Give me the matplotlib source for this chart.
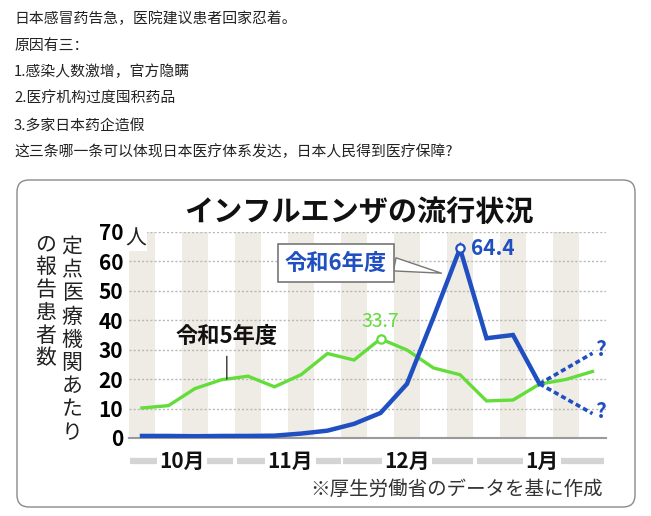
import numpy as np
import matplotlib
matplotlib.use("Agg")
import matplotlib.pyplot as plt
from matplotlib.patches import FancyBboxPatch

plt.rcParams['font.family'] = ['Noto Sans CJK JP', 'DejaVu Sans']

# 帖子正文
post_lines = [
    "日本感冒药告急，医院建议患者回家忍着。",
    "原因有三：",
    "1.感染人数激增，官方隐瞒",
    "2.医疗机构过度囤积药品",
    "3.多家日本药企造假",
    "这三条哪一条可以体现日本医疗体系发达，日本人民得到医疗保障?",
]

# 图表数据（每周，10月初～1月中旬）
weeks = np.arange(18)
r5 = [10.2, 11.0, 16.8, 19.8, 21.0, 17.4, 21.5, 28.7, 26.5, 33.7,
      29.9, 23.8, 21.5, 12.6, 12.9, 18.3, 19.9, 22.6]          # 令和5年度
r6 = [0.7, 0.7, 0.6, 0.7, 0.7, 0.8, 1.5, 2.5, 4.8, 8.5,
      18.4, 41.0, 64.4, 33.9, 35.0, 18.4]                       # 令和6年度
proj_weeks = [15, 17]
proj_high = [18.4, 28.8]
proj_low = [18.4, 8.3]

months = ["10月", "11月", "12月", "1月"]
month_centers = [1.5, 5.6, 10.0, 15.1]
month_spans = [(-0.45, 3.45), (3.6, 7.5), (7.6, 12.5), (12.65, 17.45)]
yticks = [0, 10, 20, 30, 40, 50, 60, 70]

blue = '#1f4fc1'
green = '#62dd3a'
W, H = 651, 516

fig = plt.figure(figsize=(W / 100, H / 100), dpi=100)
bg = fig.add_axes([0, 0, 1, 1])
bg.set_xlim(0, W)
bg.set_ylim(H, 0)
bg.axis('off')

# 正文
for k, line in enumerate(post_lines):
    bg.text(14, 19 + 26.6 * k, line, fontsize=10.7, color='#222222',
            family=['Noto Sans CJK SC', 'DejaVu Sans'], va='center', ha='left')

# 图片外框
frame = FancyBboxPatch((17, 180), 618, 327, boxstyle="round,pad=0,rounding_size=12",
                       fc='white', ec='#8a8a8a', lw=1.0)
bg.add_patch(frame)

# 标题
bg.text(359, 212, "インフルエンザの流行状況", fontsize=21, fontweight='bold',
        color='#111111', ha='center', va='center')

# 纵向的轴标题
for k, ch in enumerate("定点医療機関あたり"):
    bg.text(72, 247 + 23.2 * k, ch, fontsize=15, color='#222222', ha='center', va='center')
for k, ch in enumerate("の報告患者数"):
    bg.text(46, 244 + 22.9 * k, ch, fontsize=15, color='#222222', ha='center', va='center')

# 出典
bg.text(603, 489, "※厚生労働省のデータを基に作成", fontsize=14, color='#333333',
        ha='right', va='center')

# 数据区
ax = fig.add_axes([128.75 / W, (H - 438) / H, 477 / W, 206 / H])
ax.set_facecolor('none')
ax.set_xlim(-0.5, 17.5)
ax.set_ylim(0, 70)
ax.set_axisbelow(True)

for i in weeks:
    if i % 2 == 0:
        ax.axvspan(i - 0.5, i + 0.5, color='#eeece4', lw=0, zorder=0.2)

ax.set_yticks(yticks)
ax.set_yticklabels([str(v) for v in yticks], fontsize=15, fontweight='bold')
ax.tick_params(axis='y', length=0, pad=4)
ax.set_xticks([])
ax.yaxis.grid(True, linestyle=(0, (1.5, 1.5)), color='#b8b8b8', lw=1)
for s in ['top', 'right', 'left']:
    ax.spines[s].set_visible(False)
ax.spines['bottom'].set_color('#9a9a9a')
ax.spines['bottom'].set_linewidth(1.5)

# 单位“人”（画在条纹之上）
ax.text(125, 239, "人", transform=bg.transData, fontsize=15, color='#222222',
        ha='left', va='center', clip_on=False, zorder=10,
        bbox=dict(boxstyle='square,pad=0.05', fc='white', ec='none'))

# 折线
ax.plot(weeks, r5, color=green, lw=2.4, zorder=3, solid_joinstyle='miter')
ax.plot(weeks[:len(r6)], r6, color=blue, lw=3.2, zorder=4, solid_joinstyle='miter')
ax.plot(proj_weeks, proj_high, color=blue, lw=2.6, ls=(0, (1.4, 0.9)), zorder=4)
ax.plot(proj_weeks, proj_low, color=blue, lw=2.6, ls=(0, (1.4, 0.9)), zorder=4)
ax.text(proj_weeks[-1] + 0.1, proj_high[-1] + 1.3, "?", color=blue, fontsize=15,
        fontweight='bold', ha='left', va='center', clip_on=False)
ax.text(proj_weeks[-1] + 0.1, proj_low[-1] + 0.8, "?", color=blue, fontsize=15,
        fontweight='bold', ha='left', va='center', clip_on=False)

# 峰值标记
g_max = int(np.argmax(r5))
b_max = int(np.argmax(r6))
ax.plot(weeks[g_max], r5[g_max], 'o', ms=6, mfc='white', mec=green, mew=1.6, zorder=5)
ax.plot(weeks[b_max], r6[b_max], 'o', ms=6, mfc='white', mec=blue, mew=1.6, zorder=5,
        clip_on=False)
ax.text(weeks[g_max], r5[g_max] + 5.8, f"{r5[g_max]}", color=green, fontsize=14,
        ha='center', va='center')
ax.text(weeks[b_max] + 0.4, r6[b_max], f"{r6[b_max]}", color=blue, fontsize=15,
        fontweight='bold', ha='left', va='center', clip_on=False)

# 系列标注
x5 = 3.2
ax.annotate("令和5年度", xy=(x5, np.interp(x5, weeks, r5)), xytext=(x5, 34.5),
            fontsize=16, fontweight='bold', color='#111111', ha='center', va='center',
            arrowprops=dict(arrowstyle='-', color='#333333', lw=1.0, shrinkA=4, shrinkB=0))
ax.annotate("令和6年度", xy=(11.3, 56), xytext=(7.32, 59.5),
            fontsize=16, fontweight='bold', color=blue, ha='center', va='center',
            bbox=dict(boxstyle='square,pad=0.32', fc='white', ec='#777777', lw=1.2),
            arrowprops=dict(arrowstyle='wedge,tail_width=0.6', fc='white', ec='#777777',
                            lw=1.0, relpos=(1, 0.5), shrinkA=0, shrinkB=0),
            zorder=6)

# 月份条
tr = ax.get_xaxis_transform()
for (a, b) in month_spans:
    ax.plot([a, b], [-0.112, -0.112], transform=tr, color='#d4d4d4', lw=4.5,
            solid_capstyle='butt', clip_on=False)
for name, c in zip(months, month_centers):
    ax.text(c, -0.112, name, transform=tr, fontsize=15, fontweight='bold', color='#111111',
            ha='center', va='center',
            bbox=dict(boxstyle='square,pad=0.12', fc='white', ec='none'))

fig.savefig("out.png", dpi=100, facecolor='white')
